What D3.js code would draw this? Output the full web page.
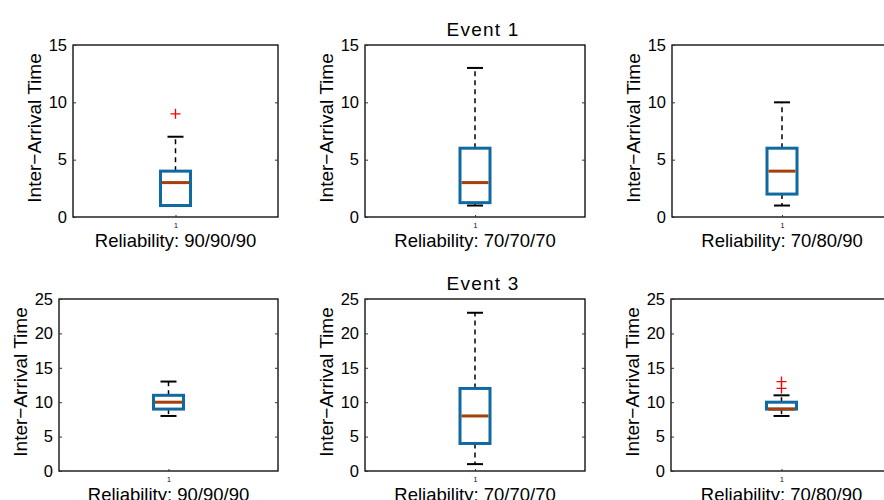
<!DOCTYPE html>
<html>
<head>
<meta charset="utf-8">
<script src="https://cdn.jsdelivr.net/npm/d3@7"></script>
<style>
  body { margin: 0; background: #fff; }
  svg { display: block; font-family: "Liberation Sans", Arial, sans-serif; }
</style>
</head>
<body>
<div id="chart"></div>
<script>
// panel labels
var reliability = ["90/90/90", "70/70/70", "70/80/90"];
var eventTitles = ["Event 1", "Event 3"];
var yTicksTop = [0, 5, 10, 15];
var yTicksBottom = [0, 5, 10, 15, 20, 25];

// box statistics, one value per reliability setting
var event1Q1 = [1, 1.25, 2];
var event1Median = [3, 3, 4];
var event1Q3 = [4, 6, 6];
var event1Low = [1, 1, 1];
var event1High = [7, 13, 10];
var event1Outliers = [[9], [], []];

var event3Q1 = [9, 4, 9];
var event3Median = [10, 8, 9];
var event3Q3 = [11, 12, 10];
var event3Low = [8, 1, 8];
var event3High = [13, 23, 11];
var event3Outliers = [[], [], [12, 13]];

var rows = [
  {title: eventTitles[0], ticks: yTicksTop, q1: event1Q1, med: event1Median, q3: event1Q3, lo: event1Low, hi: event1High, out: event1Outliers},
  {title: eventTitles[1], ticks: yTicksBottom, q1: event3Q1, med: event3Median, q3: event3Q3, lo: event3Low, hi: event3High, out: event3Outliers}
];

// layout of the six axes (pixels)
var W = 884, H = 500;
var rowTop = [45, 299], axH = 172;
var colLeft = [[73, 365, 672], [59, 365, 671]];
var colRight = [278, 585, 892];
var boxW = 30, capW = 16;
var blue = "#0e6aa0", brown = "#a3400c";

var svg = d3.select("#chart").append("svg")
    .attr("width", W)
    .attr("height", H);

rows.forEach(function(row, r) {
  reliability.forEach(function(rel, c) {
    var left = colLeft[r][c], right = colRight[c], top = rowTop[r], bottom = top + axH;

    var x = d3.scalePoint().domain(["1"]).range([left, right]).padding(0.5);
    var y = d3.scaleLinear()
      .domain([0, d3.max(row.ticks)])
      .range([bottom, top]);

    var g = svg.append("g");
    var cx = x("1");

    // frame
    g.append("rect")
      .attr("x", left).attr("y", top)
      .attr("width", right - left).attr("height", axH)
      .attr("fill", "none").attr("stroke", "#000").attr("stroke-width", 1.3);

    // y axis (ticks pointing inward) and the mirrored ticks on the right
    var yAxis = g.append("g")
      .attr("transform", "translate(" + left + ",0)")
      .call(d3.axisLeft(y).tickValues(row.ticks).tickSizeInner(-3).tickSizeOuter(0).tickPadding(6));
    yAxis.select(".domain").remove();
    yAxis.selectAll("text").attr("font-size", 16.5).attr("fill", "#000");
    yAxis.selectAll("line").attr("stroke", "#333");

    var yRight = g.append("g")
      .attr("transform", "translate(" + right + ",0)")
      .call(d3.axisRight(y).tickValues(row.ticks.slice(1, -1)).tickSizeInner(-3).tickSizeOuter(0));
    yRight.select(".domain").remove();
    yRight.selectAll("text").remove();
    yRight.selectAll("line").attr("stroke", "#333");

    // x axis: single tick "1"
    var xAxis = g.append("g")
      .attr("transform", "translate(0," + bottom + ")")
      .call(d3.axisBottom(x).tickSizeInner(-2).tickSizeOuter(0).tickPadding(6));
    xAxis.select(".domain").remove();
    xAxis.selectAll("text").attr("font-size", 7).attr("fill", "#000");
    xAxis.selectAll("line").attr("stroke", "#333");

    // labels
    g.append("text")
      .attr("transform", "translate(" + (left - 39) + "," + ((top + bottom) / 2 - 3) + ") rotate(-90)")
      .attr("text-anchor", "middle")
      .attr("dominant-baseline", "central")
      .attr("font-size", 19)
      .text("Inter\u2212Arrival Time");

    g.append("text")
      .attr("x", (left + right) / 2)
      .attr("y", bottom + 30)
      .attr("text-anchor", "middle")
      .attr("font-size", 18.5)
      .text("Reliability: " + rel);

    if (c === 1) {
      g.append("text")
        .attr("x", (left + right) / 2 + 8)
        .attr("y", top - 9)
        .attr("text-anchor", "middle")
        .attr("font-size", 19)
        .attr("letter-spacing", 1.2)
        .text(row.title);
    }

    // whiskers (dashed) and caps
    g.append("line")
      .attr("x1", cx).attr("x2", cx)
      .attr("y1", y(row.q3[c])).attr("y2", y(row.hi[c]))
      .attr("stroke", "#000").attr("stroke-width", 1.5).attr("stroke-dasharray", "5,4");
    g.append("line")
      .attr("x1", cx).attr("x2", cx)
      .attr("y1", y(row.q1[c])).attr("y2", y(row.lo[c]))
      .attr("stroke", "#000").attr("stroke-width", 1.5).attr("stroke-dasharray", "5,4");
    [row.hi[c], row.lo[c]].forEach(function(v) {
      g.append("line")
        .attr("x1", cx - capW / 2).attr("x2", cx + capW / 2)
        .attr("y1", y(v)).attr("y2", y(v))
        .attr("stroke", "#000").attr("stroke-width", 2);
    });

    // box
    g.append("rect")
      .attr("x", cx - boxW / 2)
      .attr("y", y(row.q3[c]))
      .attr("width", boxW)
      .attr("height", y(row.q1[c]) - y(row.q3[c]))
      .attr("fill", "none")
      .attr("stroke", blue)
      .attr("stroke-width", 3);

    // median
    g.append("line")
      .attr("x1", cx - boxW / 2 + 1.5).attr("x2", cx + boxW / 2 - 1.5)
      .attr("y1", y(row.med[c])).attr("y2", y(row.med[c]))
      .attr("stroke", brown).attr("stroke-width", 3);

    // outliers
    row.out[c].forEach(function(v) {
      g.append("path")
        .attr("d", "M" + (cx - 5) + "," + y(v) + "h10M" + cx + "," + (y(v) - 5) + "v10")
        .attr("stroke", "#ff0000").attr("stroke-width", 1.3).attr("fill", "none");
    });
  });
});
</script>
</body>
</html>
